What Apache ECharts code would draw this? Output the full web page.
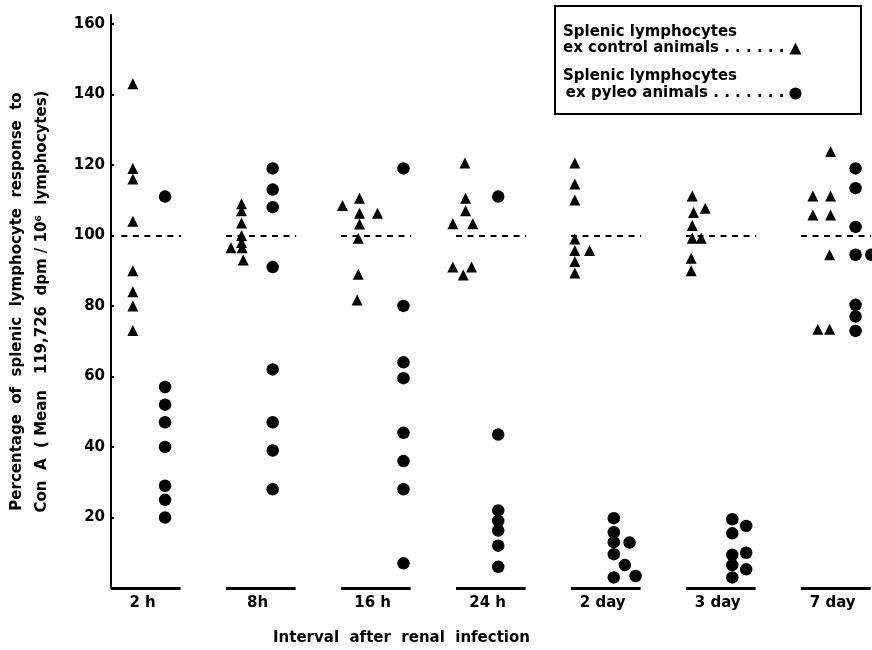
<!DOCTYPE html>
<html>
<head>
<meta charset="utf-8">
<title>Splenic lymphocyte response to Con A</title>
<script src="https://cdn.jsdelivr.net/npm/echarts@6/dist/echarts.min.js"></script>
<style>
  html, body { margin: 0; padding: 0; background: #fff; }
  #chart { width: 872px; height: 650px; }
</style>
</head>
<body>
<div id="chart"></div>
<script>
// groups along the x axis
const categories = ['2 h', '8h', '16 h', '24 h', '2 day', '3 day', '7 day'];

// % of mean control response, one small array per group
const controlValues = [
  [143, 119, 116, 104, 90, 84, 80, 73],
  [109, 107, 103.5, 100, 98, 96.5, 96.5, 93],
  [110.5, 108.5, 106.3, 106.3, 103.2, 99.2, 89, 81.7],
  [120.5, 110.5, 107, 103.3, 103.3, 91, 91, 88.8],
  [120.5, 114.6, 110, 99, 95.7, 95.7, 92.6, 89.3],
  [111.2, 106.5, 107.7, 102.8, 99.2, 99.2, 93.5, 90],
  [123.8, 111.2, 111.2, 105.8, 105.8, 94.5, 73.4, 73.4]
];
const pyleoValues = [
  [111, 57, 52, 47, 40, 29, 25, 20],
  [119, 113, 108, 91, 62, 47, 39, 28],
  [119, 80, 64, 59.5, 44, 36, 28, 7],
  [111, 43.5, 22, 19, 16.3, 12, 6],
  [19.8, 15.8, 13, 12.9, 9.6, 6.5, 3, 3.4],
  [19.5, 17.6, 15.5, 10, 9.4, 6.5, 5.3, 3],
  [119, 113.4, 102.4, 94.5, 94.5, 80.3, 77, 72.9]
];

// horizontal lane of each dot inside its group (fraction of group spacing)
const controlLanes = [
  [-0.11, -0.11, -0.11, -0.11, -0.11, -0.11, -0.11, -0.11],
  [-0.165, -0.165, -0.165, -0.165, -0.165, -0.257, -0.16, -0.15],
  [-0.139, -0.287, -0.139, 0.017, -0.139, -0.15, -0.15, -0.16],
  [-0.223, -0.217, -0.217, -0.328, -0.154, -0.328, -0.165, -0.237],
  [-0.267, -0.267, -0.267, -0.267, -0.267, -0.139, -0.267, -0.267],
  [-0.246, -0.235, -0.133, -0.246, -0.246, -0.168, -0.255, -0.255],
  [-0.043, -0.197, -0.043, -0.197, -0.043, -0.052, -0.154, -0.052]
];
const pyleoLanes = [
  [0.17, 0.17, 0.17, 0.17, 0.17, 0.17, 0.17, 0.17],
  [0.106, 0.106, 0.106, 0.106, 0.106, 0.106, 0.106, 0.106],
  [0.243, 0.243, 0.243, 0.243, 0.243, 0.243, 0.243, 0.243],
  [0.067, 0.067, 0.067, 0.067, 0.067, 0.067, 0.067],
  [0.072, 0.072, 0.072, 0.209, 0.072, 0.168, 0.072, 0.261],
  [0.102, 0.223, 0.102, 0.223, 0.102, 0.102, 0.223, 0.102],
  [0.174, 0.174, 0.174, 0.174, 0.31, 0.174, 0.174, 0.174]
];

const referenceLevel = 100;
const yTicks = [20, 40, 60, 80, 100, 120, 140, 160];

const FONT = 'DejaVu Sans';

const toPoints = (values, lanes) => {
  const pts = [];
  values.forEach((grp, g) => {
    grp.forEach((v, k) => pts.push([g + lanes[g][k], v]));
  });
  return pts;
};

// dashed 100% line and the baseline bar under every group
const levelLines = categories.map((c, g) => [
  { coord: [g + (g === 0 ? -0.21 : -0.3), referenceLevel] },
  { coord: [g + 0.31, referenceLevel] }
]);
const baseBars = categories.map((c, g) => [
  { coord: [g - 0.3, 0] },
  { coord: [g + 0.305, 0] }
]);

var myChart = echarts.init(document.getElementById('chart'));

const option = {
  backgroundColor: '#fff',
  animation: false,
  textStyle: { fontFamily: FONT, color: '#000' },
  title: {
    text: 'Interval  after  renal  infection',
    left: 273,
    top: 631,
    padding: 0,
    textStyle: { fontFamily: FONT, fontSize: 15, fontWeight: 'bold', color: '#000' }
  },
  grid: { left: 111, right: 0, top: 15, bottom: 62, containLabel: false, outerBoundsMode: 'none' },
  legend: {
    data: ['control', 'pyleo'],
    orient: 'vertical',
    align: 'right',
    left: 563,
    top: 41,
    itemWidth: 12,
    itemHeight: 12,
    itemGap: 30,
    padding: 0,
    formatter: name => name === 'control'
      ? 'ex control animals . . . . . .'
      : 'ex pyleo animals . . . . . . .',
    textStyle: { fontFamily: FONT, fontSize: 15, fontWeight: 'bold', color: '#000' }
  },
  graphic: [
    {
      type: 'rect',
      shape: { x: 555, y: 6, width: 306, height: 108 },
      style: { fill: 'none', stroke: '#000', lineWidth: 2 },
      z: 0
    },
    {
      type: 'text',
      style: { text: 'Splenic lymphocytes', x: 563, y: 32, fill: '#000',
        font: 'bold 15px "DejaVu Sans"', textVerticalAlign: 'middle' }
    },
    {
      type: 'text',
      style: { text: 'Splenic lymphocytes', x: 563, y: 76, fill: '#000',
        font: 'bold 15px "DejaVu Sans"', textVerticalAlign: 'middle' }
    }
  ],
  xAxis: {
    type: 'value',
    min: -0.3,
    max: 6.317,
    axisLine: { show: false, onZero: false },
    axisTick: { show: false },
    splitLine: { show: false },
    axisLabel: {
      customValues: categories.map((c, g) => g - 0.025),
      formatter: v => categories[Math.round(v)],
      margin: 8,
      fontFamily: FONT,
      fontSize: 15,
      fontWeight: 'bold',
      color: '#000'
    }
  },
  yAxis: {
    type: 'value',
    min: 0,
    max: 162.5,
    interval: 20,
    name: 'Percentage  of  splenic  lymphocyte  response  to\nCon  A  ( Mean   119,726  dpm / 10⁶  lymphocytes)',
    nameLocation: 'middle',
    nameGap: 56,
    nameTextStyle: { fontFamily: FONT, fontSize: 15, fontWeight: 'bold', color: '#000', lineHeight: 25 },
    axisLine: { show: true, onZero: false, lineStyle: { color: '#000', width: 2 } },
    axisTick: { show: true, inside: true, length: 3, lineStyle: { color: '#000', width: 2 } },
    splitLine: { show: false },
    axisLabel: {
      showMaxLabel: false,
      margin: 6,
      formatter: v => (yTicks.indexOf(v) >= 0 ? String(v) : ''),
      fontFamily: FONT,
      fontSize: 15,
      fontWeight: 'bold',
      color: '#000'
    }
  },
  series: [
    {
      name: 'levels',
      type: 'scatter',
      data: [],
      z: 1,
      silent: true,
      markLine: {
        silent: true,
        symbol: 'none',
        label: { show: false },
        animation: false,
        data: [
          ...levelLines.map(seg => [
            { ...seg[0], lineStyle: { type: [6, 5.5], width: 2, color: '#000' } },
            seg[1]
          ]),
          ...baseBars.map(seg => [
            { ...seg[0], lineStyle: { type: 'solid', width: 3, color: '#000' } },
            seg[1]
          ])
        ]
      }
    },
    {
      name: 'control',
      type: 'scatter',
      symbol: 'triangle',
      symbolSize: 11,
      itemStyle: { color: '#000', opacity: 1 },
      z: 3,
      data: toPoints(controlValues, controlLanes)
    },
    {
      name: 'pyleo',
      type: 'scatter',
      symbol: 'circle',
      symbolSize: 12.5,
      itemStyle: { color: '#000', opacity: 1 },
      z: 3,
      data: toPoints(pyleoValues, pyleoLanes)
    }
  ]
};

myChart.setOption(option);

window.addEventListener('resize', () => {
  myChart.resize();
});
</script>
</body>
</html>
